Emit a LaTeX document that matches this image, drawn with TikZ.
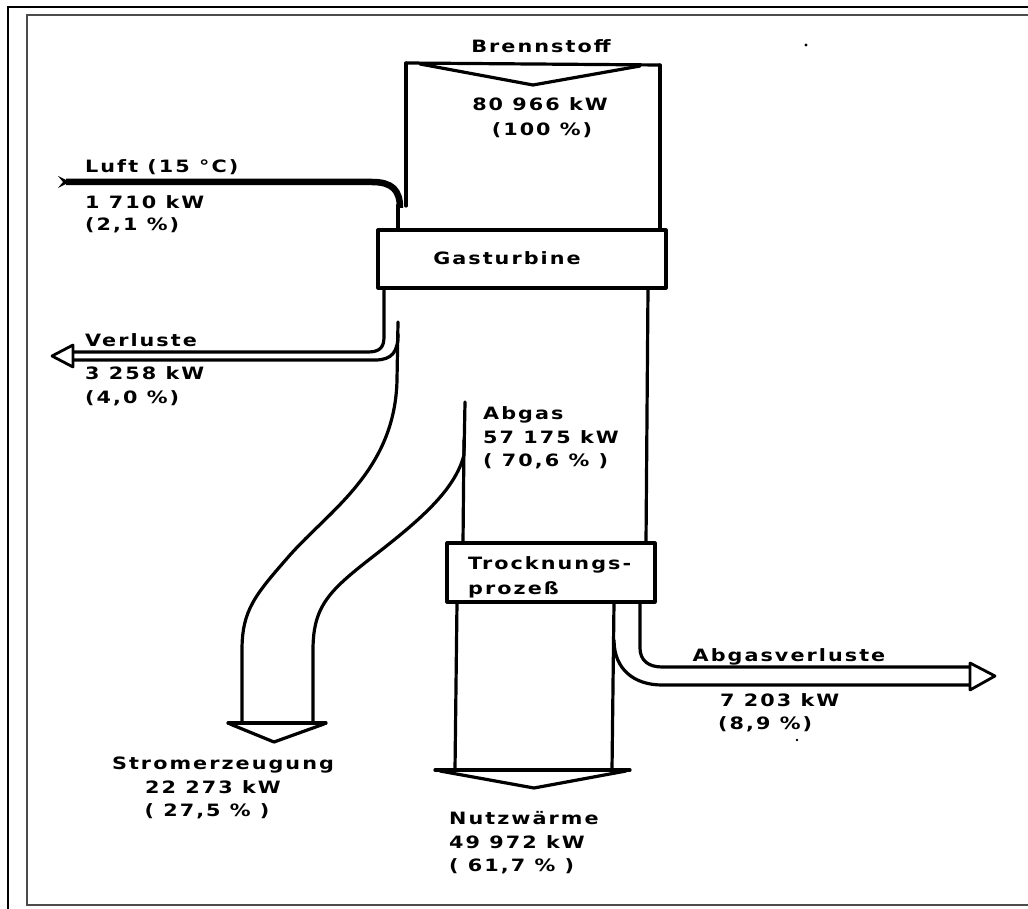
\documentclass[tikz,border=0pt]{standalone}
\usepackage{fontspec}
\newfontfamily\labfont[FakeStretch=1.22, LetterSpace=12]{DejaVu Sans}
\tikzset{
  pipe/.style={line width=3.2pt, line cap=round, line join=round},
  lab/.style={font=\labfont\bfseries\fontsize{17}{20}\selectfont, inner sep=0pt, text height=12pt, text depth=0pt},
  openhead/.style={line width=2.8pt, line join=round, fill=white},
}
\begin{document}
\begin{tikzpicture}[x=1pt,y=-1pt]
\useasboundingbox (0,0) rectangle (1028,909);
% frame
\draw[line width=2.6pt] (8,920) -- (8,7) -- (1040,7);
\draw[line width=1.8pt, black!70] (1040,15) -- (27,15) -- (27,905) -- (1040,905);

% Brennstoff inflow
\draw[pipe] (406,63) -- (660,65);
\draw[pipe] (420,64) -- (533,85) -- (640,66);
\draw[pipe] (406,63) -- (406,206);
\draw[pipe] (660,65) -- (660,230);
\node[lab] (brenn) at (541,47) {Brennstoff};
\node[lab] (brennkw) at (540,105) {80 966 kW};
\node[lab] (brennp) at (542,130) {(100 \%)};

% Luft inflow
\draw[line width=6.5pt] (66,182) -- (372,182) .. controls (392,182) and (400,190) .. (400,208);
\draw[pipe] (398,205) -- (398,230);
\fill (58,176) -- (70,182) -- (58,188) -- (63,182) -- cycle;
\node[lab, anchor=west] (luft) at (85,167) {Luft (15 °C)};
\node[lab, anchor=west] (luftkw) at (85,203) {1 710 kW};
\node[lab, anchor=west] (luftp) at (85,225) {(2,1 \%)};

% Gasturbine
\draw[pipe] (378,230) rectangle (666,288);
\node[lab] (gt) at (507,259) {Gasturbine};

% Verluste branch
\draw[pipe] (384,288) -- (384,337) .. controls (384,347) and (380,352) .. (368,352) -- (73,352);
\draw[pipe] (398,334) .. controls (398,352) and (392,360) .. (375,360) -- (73,360);
\draw[openhead] (73,345) -- (52,356) -- (73,367) -- cycle;
\node[lab, anchor=west] (verl) at (85,340) {Verluste};
\node[lab, anchor=west] (verlkw) at (85,373) {3 258 kW};
\node[lab, anchor=west] (verlp) at (85,397) {(4,0 \%)};

% Stromerzeugung pipe
\draw[pipe] (398,322) -- (397,380) .. controls (395,470) and (330,510) .. (290,555)
  .. controls (255,595) and (242,610) .. (242,650) -- (242,723);
\draw[pipe] (465,402) -- (464,455) .. controls (455,490) and (420,520) .. (375,555)
  .. controls (330,590) and (313,605) .. (313,650) -- (313,723);
\draw[pipe] (228,723) -- (326,723);
\draw[pipe] (230,724) -- (274,742) -- (324,724);
\node[lab] (strom) at (223,763) {Stromerzeugung};
\node[lab] (stromkw) at (213,787) {22 273 kW};
\node[lab] (stromp) at (207,810) {( 27,5 \% )};

% Abgas column
\draw[pipe] (464,440) -- (463,543);
\draw[pipe] (648,288) -- (646,543);
\node[lab, anchor=west] (abgas) at (483,413) {Abgas};
\node[lab, anchor=west] (abgaskw) at (483,437) {57 175 kW};
\node[lab, anchor=west] (abgasp) at (483,460) {( 70,6 \% )};

% Trocknungsprozess
\draw[pipe] (447,543) rectangle (655,602);
\node[lab, anchor=west] (tr1) at (468,563) {Trocknungs-};
\node[lab, anchor=west] (tr2) at (468,588) {prozeß};

% Nutzwaerme
\draw[pipe] (457,602) -- (455,770);
\draw[pipe] (614,602) -- (612,770);
\draw[pipe] (435,770) -- (630,770);
\draw[pipe] (440,771) -- (534,788) -- (626,771);
\node[lab, anchor=west] (nutz) at (449,818) {Nutzwärme};
\node[lab, anchor=west] (nutzkw) at (449,842) {49 972 kW};
\node[lab, anchor=west] (nutzp) at (449,865) {( 61,7 \% )};

% Abgasverluste
\draw[pipe] (640,602) -- (640,648) .. controls (640,660) and (648,667) .. (662,667) -- (970,667);
\draw[pipe] (614,640) .. controls (614,670) and (635,685) .. (662,685) -- (970,685);
\draw[openhead] (970,663) -- (995,676) -- (970,690) -- cycle;
\node[lab] (av) at (789,655) {Abgasverluste};
\node[lab, anchor=west] (avkw) at (720,700) {7 203 kW};
\node[lab, anchor=west] (avp) at (718,723) {(8,9 \%)};

% specks
\fill (806,45) circle (1.6pt);
\fill (797,740) circle (1.4pt);
\end{tikzpicture}
\end{document}
